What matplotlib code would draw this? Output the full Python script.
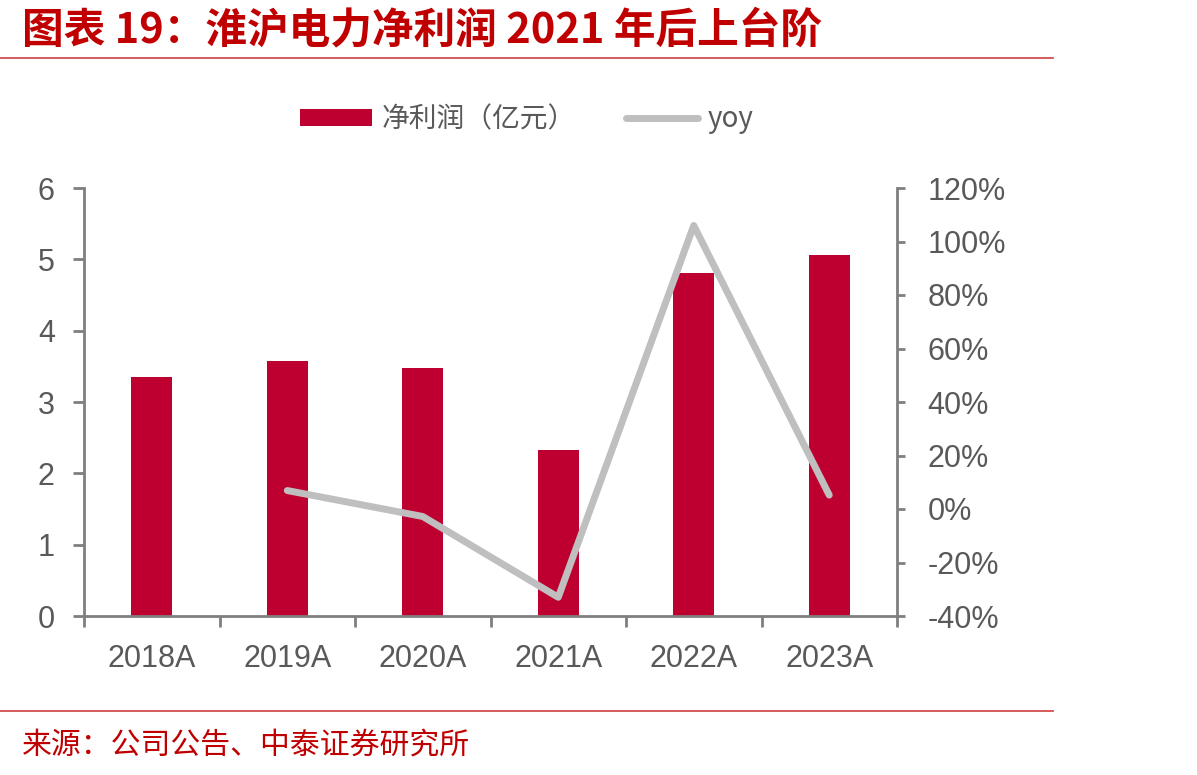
import matplotlib
matplotlib.use("Agg")
import matplotlib.pyplot as plt
import numpy as np
from matplotlib.lines import Line2D
from matplotlib.patches import Patch

plt.rcParams['font.family'] = ['Liberation Sans', 'Noto Sans CJK SC', 'DejaVu Sans']

categories = ["2018A", "2019A", "2020A", "2021A", "2022A", "2023A"]
net_profit = [3.35, 3.58, 3.48, 2.33, 4.81, 5.06]
yoy = [np.nan, 6.9, -2.8, -33.0, 106.0, 5.2]
left_ticks = [0, 1, 2, 3, 4, 5, 6]
right_ticks = [-40, -20, 0, 20, 40, 60, 80, 100, 120]

title = "图表 19：淮沪电力净利润 2021 年后上台阶"
source = "来源：公司公告、中泰证券研究所"
bar_label = "净利润（亿元）"
line_label = "yoy"

BAR = "#BE0030"
LINE = "#BFBFBF"
AX = "#7F7F7F"
TXT = "#595959"
RED = "#C00000"

fig = plt.figure(figsize=(11.97, 7.75), dpi=100)
ax = fig.add_axes([84/1197, 1-616/775, (897-84)/1197, (616-188)/775])
x = np.arange(len(categories))
ax.bar(x, net_profit, width=0.30, color=BAR, zorder=2)
ax.set_xlim(-0.5, len(categories)-0.5)
ax.set_ylim(0, 6)
ax.set_yticks(left_ticks)
ax.set_xticks(x)
ax.set_xticklabels(categories)
ax.set_xticks(np.arange(-0.5, len(categories)), minor=True)
ax.tick_params(axis='x', which='major', length=0, pad=20, labelsize=22, labelcolor=TXT)
ax.tick_params(axis='x', which='minor', length=8, width=2, color=AX, direction='out')
ax.tick_params(axis='y', length=8, width=2, color=AX, labelsize=22, labelcolor=TXT, pad=13)
for s in ['top', 'right']:
    ax.spines[s].set_visible(False)
for s in ['left', 'bottom']:
    ax.spines[s].set_color(AX)
    ax.spines[s].set_linewidth(2)

ax2 = ax.twinx()
ax2.plot(x, yoy, color=LINE, lw=5, solid_capstyle='round', zorder=3)
ax2.set_ylim(-40, 120)
ax2.set_yticks(right_ticks)
ax2.set_yticklabels([f"{t}%" for t in right_ticks])
ax2.tick_params(axis='y', length=6, width=2, color=AX, labelsize=22, labelcolor=TXT, pad=16)
for s in ['top', 'left', 'bottom']:
    ax2.spines[s].set_visible(False)
ax2.spines['right'].set_color(AX)
ax2.spines['right'].set_linewidth(2)

handles = [Patch(facecolor=BAR, edgecolor='none'),
           Line2D([0], [0], color=LINE, lw=5, solid_capstyle='round')]
fig.legend(handles, [bar_label, line_label], loc='center', bbox_to_anchor=(527/1197, 1-119/775),
           ncol=2, frameon=False, labelcolor=TXT, handlelength=2.6,
           handleheight=0.55, columnspacing=1.8, handletextpad=0.35,
           prop={'family': ['Noto Sans CJK SC', 'DejaVu Sans'], 'size': 20})

fig.text(22/1197, 1-30/775, title, fontsize=30, fontweight='bold', style='italic',
         color=RED, va='center', ha='left', family=['Noto Sans CJK SC', 'DejaVu Sans'])
fig.add_artist(Line2D([0, 1053/1197], [1-58/775]*2, color="#D04040", lw=1.2))
fig.add_artist(Line2D([0, 1053/1197], [1-711/775]*2, color="#D04040", lw=1.2))
fig.text(22/1197, 1-745/775, source, fontsize=21.5, color=RED, va='center', ha='left',
         family=['Noto Sans CJK SC', 'DejaVu Sans'])

fig.savefig("out.png", dpi=100)
